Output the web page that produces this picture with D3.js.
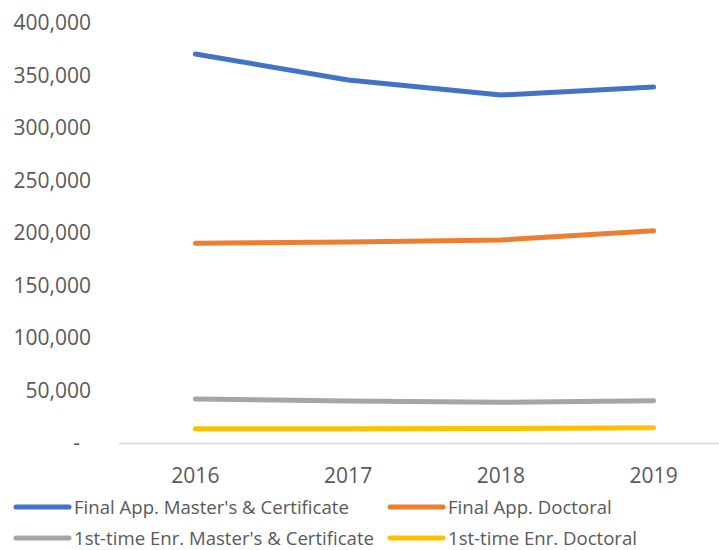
<!DOCTYPE html>
<html>
<head>
<meta charset="utf-8">
<script src="https://cdn.jsdelivr.net/npm/d3@7"></script>
<style>
  body { margin: 0; background: #fff; }
  svg text { font-family: "Open Sans", "Noto Sans", sans-serif; fill: #595959; }
</style>
</head>
<body>
<div id="chart"></div>
<script>
// Data setup
const years = ["2016", "2017", "2018", "2019"];
const seriesNames = [
    "Final App. Master's & Certificate",
    "Final App. Doctoral",
    "1st-time Enr. Master's & Certificate",
    "1st-time Enr. Doctoral"
];
const finalAppMasters = [370500, 345700, 331400, 339000];
const finalAppDoctoral = [190200, 191400, 193300, 202200];
const enrMasters = [41900, 40000, 38800, 40300];
const enrDoctoral = [13600, 13600, 13700, 14600];
const colors = ["#4472C4", "#ED7D31", "#A5A5A5", "#FFC000"];
const yTicks = [0, 50000, 100000, 150000, 200000, 250000, 300000, 350000, 400000];

const allSeries = [finalAppMasters, finalAppDoctoral, enrMasters, enrDoctoral];

// Set up dimensions
const width = 719, height = 550;
const plot = {left: 119, right: 730, top: 23, bottom: 443};

const svg = d3.select("#chart")
    .append("svg")
    .attr("width", width)
    .attr("height", height);

const xScale = d3.scaleBand()
    .domain(years)
    .range([plot.left, plot.right]);

const yScale = d3.scaleLinear()
    .domain([0, 400000])
    .range([plot.bottom, plot.top]);

// Y axis labels (no line, no ticks)
const fmt = d3.format(",");
svg.append("g")
    .selectAll("text")
    .data(yTicks)
    .join("text")
    .attr("x", d => d === 0 ? 80 : 91)
    .attr("y", d => yScale(d))
    .attr("dy", "0.35em")
    .attr("text-anchor", "end")
    .style("font-size", "21px")
    .text(d => d === 0 ? "-" : fmt(d));

// X axis baseline
svg.append("line")
    .attr("x1", plot.left)
    .attr("x2", width)
    .attr("y1", yScale(0) + 0.5)
    .attr("y2", yScale(0) + 0.5)
    .attr("stroke", "#D9D9D9")
    .attr("stroke-width", 1.5);

// X axis labels
svg.append("g")
    .selectAll("text")
    .data(years)
    .join("text")
    .attr("x", d => xScale(d) + xScale.bandwidth() / 2)
    .attr("y", 476)
    .attr("dy", "0.35em")
    .attr("text-anchor", "middle")
    .style("font-size", "21px")
    .text(d => d);

// Lines
const line = d3.line()
    .x((d, i) => xScale(years[i]) + xScale.bandwidth() / 2)
    .y(d => yScale(d));

svg.append("g")
    .selectAll("path")
    .data(allSeries)
    .join("path")
    .attr("d", line)
    .attr("fill", "none")
    .attr("stroke", (d, i) => colors[i])
    .attr("stroke-width", 5)
    .attr("stroke-linecap", "round")
    .attr("stroke-linejoin", "round");

// Legend (2 x 2)
const legendPos = [
    {x: 14, y: 507}, {x: 388, y: 507},
    {x: 14, y: 538}, {x: 388, y: 538}
];
const legend = svg.append("g")
    .selectAll("g")
    .data(seriesNames)
    .join("g")
    .attr("transform", (d, i) => `translate(${legendPos[i].x},${legendPos[i].y})`);

legend.append("line")
    .attr("x1", 2)
    .attr("x2", 55)
    .attr("stroke", (d, i) => colors[i])
    .attr("stroke-width", 5)
    .attr("stroke-linecap", "round");

legend.append("text")
    .attr("x", 60)
    .attr("dy", "0.35em")
    .style("font-size", "18.6px")
    .text(d => d);
</script>
</body>
</html>
